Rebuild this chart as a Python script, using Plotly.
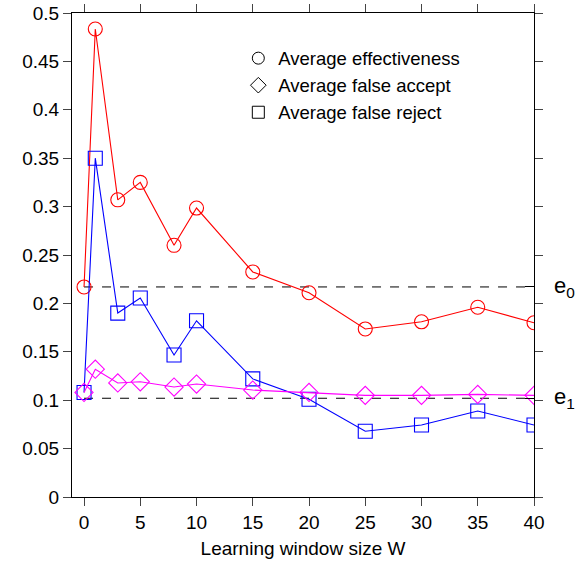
import plotly.graph_objects as go

W = [0, 1, 3, 5, 8, 10, 15, 20, 25, 30, 35, 40]
effectiveness = [0.217, 0.4835, 0.307, 0.325, 0.260, 0.2985, 0.2325, 0.211, 0.1736, 0.181, 0.196, 0.180]
false_accept = [0.108, 0.132, 0.1178, 0.119, 0.1136, 0.1167, 0.1105, 0.108, 0.105, 0.105, 0.106, 0.105]
false_reject = [0.108, 0.350, 0.190, 0.2056, 0.1467, 0.182, 0.122, 0.101, 0.068, 0.0744, 0.0888, 0.0744]
e0 = 0.217
e1 = 0.102
y_ticks = [0, 0.05, 0.1, 0.15, 0.2, 0.25, 0.3, 0.35, 0.4, 0.45, 0.5]
y_tick_text = ["0", "0.05", "0.1", "0.15", "0.2", "0.25", "0.3", "0.35", "0.4", "0.45", "0.5"]
x_ticks = [0, 5, 10, 15, 20, 25, 30, 35, 40]

FONT = "Liberation Sans, Arial, Helvetica, sans-serif"

fig = go.Figure()

# reference dashed lines
for val in (e0, e1):
    fig.add_trace(go.Scatter(x=[0, 40], y=[val, val], mode="lines",
                             line=dict(color="black", width=1, dash="dash"),
                             showlegend=False, hoverinfo="skip"))

fig.add_trace(go.Scatter(x=W, y=effectiveness, mode="lines+markers",
                         line=dict(color="red", width=1.1),
                         marker=dict(symbol="circle-open", size=14, color="red", line=dict(width=1.1)),
                         showlegend=False))
fig.add_trace(go.Scatter(x=W, y=false_reject, mode="lines+markers",
                         line=dict(color="blue", width=1.1),
                         marker=dict(symbol="square-open", size=14, color="blue", line=dict(width=1.1)),
                         showlegend=False))
fig.add_trace(go.Scatter(x=W, y=false_accept, mode="lines+markers",
                         line=dict(color="magenta", width=1.1),
                         marker=dict(symbol="diamond-open", size=14, color="magenta", line=dict(width=1.1)),
                         showlegend=False))

# legend entries (black hollow symbols)
for name, sym in [("Average effectiveness", "circle-open"),
                  ("Average false accept", "diamond-open"),
                  ("Average false reject", "square-open")]:
    fig.add_trace(go.Scatter(x=[None], y=[None], mode="markers", name=name,
                             marker=dict(symbol=sym, size=12, color="black", line=dict(width=1))))

# invisible trace on overlay axis so inside ticks at e0/e1 on right side render
fig.add_trace(go.Scatter(x=[None], y=[None], yaxis="y2", showlegend=False, hoverinfo="skip"))

fig.add_annotation(x=1.04, y=e0, xref="paper", yref="y", text="e<sub>0</sub>",
                   showarrow=False, xanchor="left", font=dict(size=22, family=FONT, color="black"))
fig.add_annotation(x=1.04, y=e1, xref="paper", yref="y", text="e<sub>1</sub>",
                   showarrow=False, xanchor="left", font=dict(size=22, family=FONT, color="black"))

fig.update_layout(
    width=584, height=567,
    margin=dict(l=72, r=50, t=13, b=70),
    paper_bgcolor="white", plot_bgcolor="white",
    font=dict(family=FONT, size=19, color="black"),
    legend=dict(x=0.36, y=0.945, xanchor="left", yanchor="top",
                bgcolor="rgba(0,0,0,0)", font=dict(size=18.5, family=FONT),
                itemwidth=30, tracegroupgap=0),
    xaxis=dict(range=[-1.07, 40], tickvals=x_ticks, ticks="outside", ticklen=8,
               showline=True, linecolor="black", linewidth=1, mirror="ticks",
               showgrid=False, zeroline=False, automargin=False,
               title=dict(text="Learning window size W", font=dict(size=19), standoff=9)),
    yaxis=dict(range=[0, 0.5], tickvals=y_ticks, ticktext=y_tick_text, ticks="outside", ticklen=8,
               showline=True, linecolor="black", linewidth=1, mirror="ticks",
               showgrid=False, zeroline=False, automargin=False),
    yaxis2=dict(range=[0, 0.5], overlaying="y", side="right", tickvals=[e0, e1],
                ticks="inside", ticklen=9, tickcolor="black", showticklabels=False,
                showgrid=False, zeroline=False, showline=False, automargin=False),
)

fig.write_html("out.html")
